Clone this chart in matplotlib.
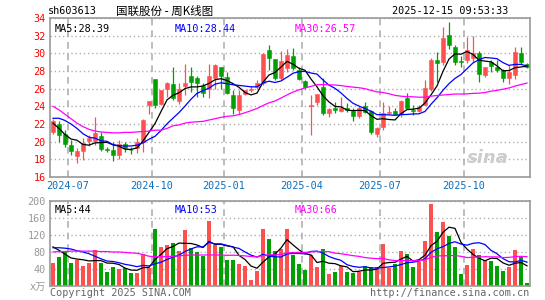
import numpy as np
import pandas as pd
import matplotlib
matplotlib.use('Agg')
import matplotlib.pyplot as plt

plt.rcParams['font.family'] = ['DejaVu Sans Mono', 'Noto Sans CJK SC']

# 周K线 (2024-06-10 ~ 2025-12-15), 80根
opens = [21.1, 22.0, 20.9, 19.6, 18.4, 18.9, 20.1, 20.1, 20.6, 19.15,
         19.06, 18.5, 19.7, 19.1, 19.25, 20.0, 24.2, 27.1, 24.3, 26.0,
         26.5, 24.6, 26.25, 27.4, 27.25, 26.3, 26.0, 27.25, 28.4, 27.36,
         25.3, 23.6, 25.4, 25.9, 26.2, 26.6, 30.4, 29.35, 27.2, 28.3,
         29.7, 28.1, 26.9, 24.05, 24.45, 26.2, 23.2, 23.85, 23.5, 23.8,
         23.5, 22.9, 24.0, 23.5, 20.83, 21.7, 23.2, 23.5, 23.1, 24.9,
         23.55, 23.5, 24.15, 26.0, 29.2, 29.05, 32.1, 30.75, 29.1, 29.2,
         29.5, 30.0, 27.6, 29.0, 28.5, 28.1, 27.2, 27.6, 30.0, 28.8]
highs = [22.6, 22.3, 21.3, 20.2, 19.3, 20.4, 20.75, 22.8, 21.1, 19.4,
         20.0, 20.2, 20.0, 19.4, 20.4, 22.6, 24.6, 27.1, 25.9, 26.8,
         28.5, 26.6, 28.75, 28.5, 27.4, 26.6, 28.75, 28.75, 28.5, 27.9,
         25.85, 25.85, 25.9, 26.3, 27.0, 30.0, 30.9, 29.4, 30.3, 30.45,
         30.6, 28.5, 27.0, 25.3, 25.4, 27.25, 23.8, 24.45, 25.05, 24.35,
         23.8, 24.05, 24.45, 23.6, 21.7, 24.45, 24.0, 23.85, 24.7, 25.5,
         24.2, 24.15, 27.0, 29.5, 30.2, 33.0, 33.6, 31.0, 29.7, 31.9,
         32.0, 30.3, 28.5, 29.25, 29.25, 28.2, 28.7, 30.75, 30.75, 28.9]
lows = [20.9, 20.0, 19.4, 18.5, 17.55, 17.9, 19.5, 19.6, 18.9, 18.8,
        17.85, 18.0, 18.87, 18.6, 18.7, 18.8, 23.1, 23.8, 24.15, 25.1,
        24.7, 24.3, 25.3, 25.6, 25.1, 25.1, 24.9, 26.0, 26.0, 25.4,
        23.1, 23.1, 25.3, 25.6, 26.0, 26.4, 28.1, 27.0, 27.0, 27.9,
        28.1, 27.0, 26.0, 20.75, 24.15, 23.0, 22.8, 23.2, 23.4, 23.4,
        22.35, 22.7, 23.3, 20.9, 20.5, 21.3, 23.1, 23.0, 22.8, 23.7,
        23.0, 23.4, 24.1, 25.7, 26.8, 28.7, 30.5, 28.7, 28.4, 28.9,
        29.05, 26.8, 27.35, 27.85, 27.85, 26.7, 26.5, 27.05, 28.75, 28.3]
closes = [22.3, 20.8, 19.7, 19.0, 19.0, 19.9, 20.45, 20.95, 19.2, 19.1,
          18.5, 19.7, 19.25, 19.05, 20.0, 22.4, 24.6, 24.2, 25.85, 26.6,
          25.0, 26.0, 26.6, 26.8, 26.6, 25.55, 27.4, 28.7, 27.4, 25.55,
          23.8, 25.3, 25.8, 26.0, 26.6, 29.9, 29.45, 27.2, 29.1, 29.8,
          28.3, 27.1, 26.15, 24.1, 25.4, 23.2, 23.65, 23.6, 23.85, 23.6,
          22.85, 23.85, 23.4, 21.05, 21.5, 23.2, 23.4, 23.15, 24.6, 23.8,
          23.45, 23.95, 26.1, 29.2, 28.85, 31.7, 30.9, 29.05, 29.0, 30.4,
          30.0, 27.7, 28.5, 28.6, 28.1, 27.2, 27.85, 30.1, 29.05, 28.5]
# 成交量 (万手)
volumes = [54, 68, 80, 54, 61, 46, 54, 84, 54, 32, 44, 39, 42, 30, 30, 75, 42, 134, 91, 97,
           101, 82, 131, 89, 80, 71, 153, 96, 91, 61, 61, 51, 48, 14, 35, 134, 110, 82, 86, 134,
           72, 51, 37, 72, 44, 87, 28, 32, 46, 32, 31, 32, 48, 44, 44, 98, 42, 51, 82, 75,
           44, 57, 105, 193, 127, 150, 117, 91, 28, 49, 87, 72, 61, 58, 46, 35, 44, 84, 68, 6]

# 图表起点之前的均线值
ma5_head = [22.1, 21.5, 20.8, 20.3]
ma10_head = [22.65, 22.65, 22.4, 22.0, 21.5, 20.9, 20.5, 20.4, 20.1]
ma30_head = [24.0, 23.6, 23.1, 22.6, 22.1, 21.7, 21.4, 21.2, 21.1, 21.05,
             21.0, 21.0, 21.05, 21.05, 21.1, 21.15, 21.2, 21.3, 21.3, 21.5,
             21.8, 21.9, 22.1, 22.2, 22.25, 22.3, 22.45, 22.6, 22.75]
vma5_head = [92, 84, 75, 66]
vma10_head = [90, 90, 89, 87, 83, 80, 76, 70, 64]
vma30_head = [80, 81, 81, 82, 82, 82, 82, 82, 81, 81, 80, 80, 79, 78, 77,
              74, 70, 69, 69, 69, 70, 71, 72, 73, 73, 73, 73, 73, 73]

tick_pos = [2.5, 16.5, 28.5, 41.5, 54.5, 68.5]
tick_labels = ['2024-07', '2024-10', '2025-01', '2025-04', '2025-07', '2025-10']

RED = '#ff5050'
GREEN = '#00a000'
GRID = '#b0b0b0'


def moving_avg(values, n, head):
    ma = pd.Series(values, dtype=float).rolling(n).mean().to_numpy()
    ma[:len(head)] = head
    return ma


o = np.array(opens)
h = np.array(highs)
l = np.array(lows)
c = np.array(closes)
v = np.array(volumes, dtype=float)
x = np.arange(len(c))
up = c >= o
colors = np.where(up, RED, GREEN)

W, H = 545, 300
fig = plt.figure(figsize=(W / 100, H / 100), dpi=100)
ax1 = fig.add_axes([50 / W, 1 - 177 / H, 480 / W, 159 / H])
ax2 = fig.add_axes([50 / W, 1 - 286 / H, 480 / W, 85 / H])

for ax in (ax1, ax2):
    ax.set_xlim(-0.5, len(c) - 0.5)
    for s in ax.spines.values():
        s.set_color('#999999')
        s.set_linewidth(1.2)
    ax.set_xticks(tick_pos)
    ax.grid(axis='x', color=GRID, linestyle=(0, (4, 3)), linewidth=1.2)
    ax.grid(axis='y', color=GRID, linestyle=(0, (1, 2)), linewidth=1)
    ax.tick_params(length=0)
    ax.set_axisbelow(True)

# [上] K线
ax1.set_ylim(16, 34)
ax1.set_yticks(range(16, 35, 2))
ax1.tick_params(axis='y', labelcolor='#ff0000', labelsize=7.3, pad=3)
ax1.set_xticklabels(tick_labels, color='#0a70c0', fontsize=7.3)
ax1.tick_params(axis='x', pad=3)

ax1.vlines(x, l, h, colors=colors, linewidth=0.9)
body_bottom = np.minimum(o, c)
body_h = np.maximum(np.abs(c - o), 0.05)
ax1.bar(x, body_h, bottom=body_bottom, width=0.75, color=colors,
        edgecolor=colors, linewidth=0.4)

ax1.plot(x, moving_avg(c, 5, ma5_head), color='black', linewidth=0.9)
ax1.plot(x, moving_avg(c, 10, ma10_head), color='#0000ff', linewidth=0.9)
ax1.plot(x, moving_avg(c, 30, ma30_head), color='#ff00ff', linewidth=0.9)

ax1.text(5 / 480, 0.965, 'MA5:28.39', transform=ax1.transAxes, fontsize=7.3,
         color='black', va='top')
ax1.text(125 / 480, 0.965, 'MA10:28.44', transform=ax1.transAxes, fontsize=7.3,
         color='#0000ff', va='top')
ax1.text(245 / 480, 0.965, 'MA30:26.57', transform=ax1.transAxes, fontsize=7.3,
         color='#ff00ff', va='top')
ax1.text(0.955, 0.12, 'sina', transform=ax1.transAxes, fontsize=13,
         color='#cccccc', ha='right', va='center', style='italic',
         fontweight='bold', family='DejaVu Sans')

# [下] 成交量
ax2.set_ylim(0, 200)
ax2.set_yticks([0, 40, 80, 120, 160, 200])
ax2.set_yticklabels(['x万', '40', '80', '120', '160', '200'])
ax2.tick_params(axis='y', labelcolor='#999999', labelsize=7.3, pad=3)
ax2.set_xticklabels([])
ax2.bar(x, v, width=0.82, color=colors, linewidth=0)
ax2.plot(x, moving_avg(v, 5, vma5_head), color='black', linewidth=0.9)
ax2.plot(x, moving_avg(v, 10, vma10_head), color='#0000ff', linewidth=0.9)
ax2.plot(x, moving_avg(v, 30, vma30_head), color='#ff00ff', linewidth=0.9)

ax2.text(5 / 480, 0.95, 'MA5:44', transform=ax2.transAxes, fontsize=7.3,
         color='black', va='top')
ax2.text(125 / 480, 0.95, 'MA10:53', transform=ax2.transAxes, fontsize=7.3,
         color='#0000ff', va='top')
ax2.text(245 / 480, 0.95, 'MA30:66', transform=ax2.transAxes, fontsize=7.3,
         color='#ff00ff', va='top')

# 标题与页脚
fig.text(48 / W, 1 - 11 / H, 'sh603613', fontsize=7.3, va='center')
fig.text(116 / W, 1 - 11 / H, '国联股份 - 周K线图', fontsize=8.3, va='center',
         family=['Noto Sans CJK SC', 'DejaVu Sans'])
fig.text(508 / W, 1 - 11 / H, '2025-12-15 09:53:33', fontsize=7.3,
         va='center', ha='right')
fig.text(50 / W, 1 - 293 / H, 'Copyright 2025 SINA.COM', fontsize=7.3,
         va='center', color='#666666')
fig.text(529 / W, 1 - 293 / H, 'http://finance.sina.com.cn', fontsize=7.3,
         va='center', ha='right', color='#666666')

fig.savefig('out.png', dpi=100, facecolor='white')
